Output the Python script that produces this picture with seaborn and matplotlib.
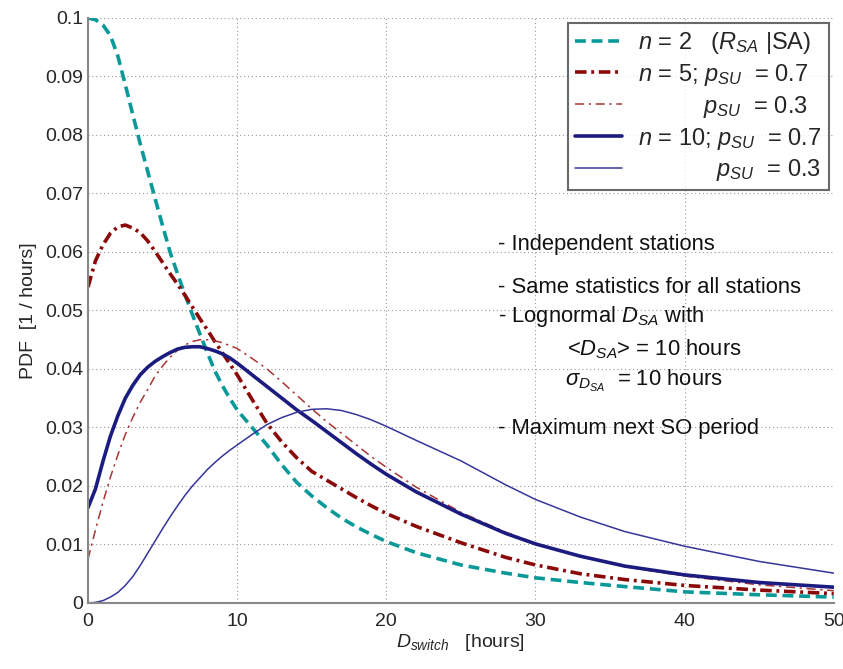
import matplotlib
matplotlib.use("Agg")
import matplotlib.pyplot as plt
import seaborn as sns
import numpy as np
from matplotlib.ticker import FuncFormatter

# D_switch [hours]
d_switch = [0, 0.5, 1, 1.5, 2, 2.5, 3, 3.5, 4, 4.5, 5, 5.5, 6, 6.5, 7, 7.5, 8, 8.5, 9, 9.5, 10,
            11, 12, 13, 14, 15, 16, 17, 18, 19, 20,
            22, 25, 28, 30, 33, 36, 40, 45, 50]

# PDF values
pdf_n2 = [0.1, 0.0997, 0.0988, 0.097, 0.0935, 0.0886, 0.0835, 0.0785, 0.0738, 0.0691, 0.0645,
          0.06, 0.0563, 0.0527, 0.0493, 0.046, 0.0428, 0.0397, 0.0372, 0.035, 0.033,
          0.0300, 0.027, 0.0236, 0.0206, 0.0183, 0.0163, 0.0145, 0.013, 0.0117, 0.0105,
          0.0086, 0.0065, 0.0051, 0.0043, 0.0035, 0.0028, 0.0019, 0.0014, 0.001]
pdf_n5_p07 = [0.054, 0.0585, 0.0612, 0.0632, 0.0643, 0.0646, 0.0641, 0.0633, 0.0619, 0.0601, 0.0582,
              0.0563, 0.0545, 0.0526, 0.0506, 0.0486, 0.0467, 0.0447, 0.0428, 0.0409, 0.039,
              0.0348, 0.0307, 0.0275, 0.0248, 0.0225, 0.021, 0.0195, 0.018, 0.0166, 0.0153,
              0.0131, 0.0103, 0.0078, 0.0065, 0.005, 0.004, 0.003, 0.0022, 0.0016]
pdf_n5_p03 = [0.0075, 0.0125, 0.0172, 0.0215, 0.0253, 0.0288, 0.0317, 0.0343, 0.0365, 0.0388, 0.0405,
              0.042, 0.0432, 0.0441, 0.0447, 0.045, 0.045, 0.0448, 0.0445, 0.044, 0.0435,
              0.0418, 0.04, 0.0378, 0.0355, 0.0332, 0.031, 0.029, 0.027, 0.025, 0.0232,
              0.0198, 0.0155, 0.0121, 0.0102, 0.008, 0.0062, 0.0046, 0.0031, 0.0021]
pdf_n10_p07 = [0.0163, 0.0195, 0.0242, 0.0285, 0.032, 0.035, 0.0372, 0.039, 0.0403, 0.0413, 0.0421,
               0.0428, 0.0434, 0.0437, 0.0438, 0.0438, 0.0435, 0.0431, 0.0426, 0.0419, 0.041,
               0.039, 0.037, 0.035, 0.033, 0.0312, 0.0293, 0.0274, 0.0255, 0.0237, 0.022,
               0.019, 0.0152, 0.0119, 0.0101, 0.008, 0.0063, 0.0048, 0.0035, 0.0027]
pdf_n10_p03 = [0.0, 0.0001, 0.0004, 0.001, 0.0018, 0.003, 0.0045, 0.0064, 0.0085, 0.0106, 0.0127,
               0.0147, 0.0166, 0.0184, 0.02, 0.0214, 0.0228, 0.024, 0.0251, 0.0261, 0.027,
               0.0288, 0.0305, 0.0317, 0.0326, 0.0331, 0.0332, 0.0329, 0.0322, 0.0313, 0.0302,
               0.0278, 0.0243, 0.0202, 0.0177, 0.0147, 0.0122, 0.0097, 0.0071, 0.0051]

labels = [r"$n$ = 2   ($R_{SA}$ |SA)",
          r"$n$ = 5; $p_{SU}$  = 0.7",
          r"          $p_{SU}$  = 0.3",
          r"$n$ = 10; $p_{SU}$  = 0.7",
          r"            $p_{SU}$  = 0.3"]

notes = ["- Independent stations",
         "- Same statistics for all stations",
         r"- Lognormal $D_{SA}$ with",
         r"<$D_{SA}$> = 10 hours",
         r"$\sigma_{D_{SA}}$  = 10 hours",
         "- Maximum next SO period"]

sns.set_style("white")
plt.rcParams['font.family'] = ['Liberation Sans', 'DejaVu Sans']
plt.rcParams['mathtext.fontset'] = 'custom'
plt.rcParams['mathtext.rm'] = 'Liberation Sans'
plt.rcParams['mathtext.it'] = 'Liberation Sans:italic'
plt.rcParams['mathtext.bf'] = 'Liberation Sans:bold'

fig = plt.figure(figsize=(8.43, 6.69), dpi=100)
ax = fig.add_axes([0.1044, 0.0987, 0.8846, 0.8744])

teal = "#0a9898"
dred = "#8a0a0a"
lred = "#a83434"
navy = "#1c1c80"
lnavy = "#35359a"

sns.lineplot(x=d_switch, y=pdf_n2, ax=ax, color=teal, lw=2.6, label=labels[0])
sns.lineplot(x=d_switch, y=pdf_n5_p07, ax=ax, color=dred, lw=2.6, label=labels[1])
sns.lineplot(x=d_switch, y=pdf_n5_p03, ax=ax, color=lred, lw=1.1, label=labels[2])
sns.lineplot(x=d_switch, y=pdf_n10_p07, ax=ax, color=navy, lw=2.6, label=labels[3])
sns.lineplot(x=d_switch, y=pdf_n10_p03, ax=ax, color=lnavy, lw=1.1, label=labels[4])

lines = ax.get_lines()
lines[0].set_dashes([3.0, 1.6])
lines[1].set_dashes([3.2, 1.3, 0.8, 1.3])
lines[2].set_dashes([6.0, 3.0, 1.5, 3.0])

ax.set_xlim(0, 50)
ax.set_ylim(0, 0.1)
ax.set_xticks(range(0, 51, 10))
ax.set_yticks(np.arange(0, 0.1001, 0.01))
ax.yaxis.set_major_formatter(FuncFormatter(lambda v, p: "%g" % round(v, 3)))
ax.tick_params(labelsize=14, direction="in", length=5, color="#777777", width=1)
ax.tick_params(axis="x", pad=7)
ax.grid(True, linestyle=(0, (1, 2.5)), color="#999999", lw=0.8)
for side in ["top", "right"]:
    ax.spines[side].set_visible(False)
for side in ["left", "bottom"]:
    ax.spines[side].set_color("#888888")
    ax.spines[side].set_linewidth(1.5)

ax.set_xlabel(r"$D_{switch}$   [hours]", fontsize=14, labelpad=2)
ax.set_ylabel("PDF  [1 / hours]", fontsize=14, labelpad=6)

leg = ax.legend(loc="upper right", fontsize=17, frameon=True, fancybox=False,
                edgecolor="#444444", handlelength=2.0, borderaxespad=0.2,
                labelspacing=0.25, borderpad=0.3, handletextpad=0.7)
leg.get_frame().set_linewidth(1.5)

xs = [0.55, 0.55, 0.55, 0.642, 0.64, 0.55]
ys = [0.612, 0.540, 0.489, 0.434, 0.379, 0.299]
for t, x, y in zip(notes, xs, ys):
    ax.text(x, y, t, transform=ax.transAxes, fontsize=15.8, va="center", color="#111111")

fig.savefig("out.png", dpi=100)
